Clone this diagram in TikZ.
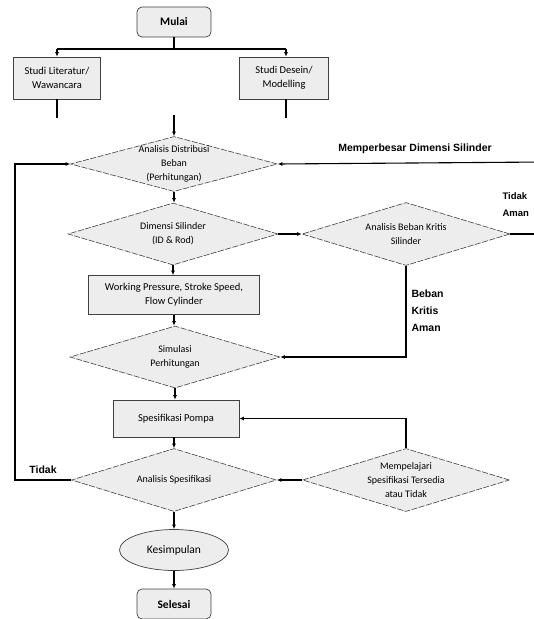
\documentclass[tikz,border=0pt]{standalone}
\usepackage{fontspec}
\setmainfont{Carlito}
\newfontfamily\heavyfont{Liberation Sans}
\usetikzlibrary{shapes.geometric,arrows.meta}

\tikzset{
  procbox/.style={draw=black!75, fill=black!7, line width=0.7pt, align=center,
    inner sep=1pt, font=\fontsize{10.5}{14}\selectfont},
  termbox/.style={procbox, rounded corners=5pt, minimum width=74pt,
    minimum height=30pt, font=\bfseries\fontsize{11.5}{12}\selectfont},
  decide/.style={diamond, draw=black!75, fill=black!7, line width=0.6pt,
    dash pattern=on 6pt off 1.5pt, aspect=3.4, inner xsep=-14pt,
    inner ysep=-6pt, minimum width=207pt, minimum height=60pt, align=center,
    font=\fontsize{10}{14}\selectfont},
  flow/.style={line width=1.1pt, -{Latex[length=4.5pt,width=4pt]}},
  link/.style={line width=1.1pt},
  flowlabel/.style={font=\heavyfont\bfseries\fontsize{10.5}{17}\selectfont, align=left},
}

\begin{document}
\begin{tikzpicture}[x=1pt,y=-1pt]
  \useasboundingbox (0,0) rectangle (534,619);
  \clip (0,0) rectangle (534,619);

  % --- start and the two study branches ---
  \node[termbox] (mulai) at (174,22) {Mulai};
  \node[procbox, minimum width=87pt, minimum height=42pt] (literatur)
    at (57,78) {Studi Literatur/\\Wawancara};
  \node[procbox, minimum width=89pt, minimum height=42pt] (desain)
    at (284,78) {Studi Desein/\\Modelling};

  \coordinate (split) at (174,49);
  \coordinate (splitL) at (57,49);
  \coordinate (splitR) at (286,49);
  \coordinate (litEnd) at (57,118);
  \coordinate (desEnd) at (286,118);
  \coordinate (mergeIn) at (174,115);

  % --- main column ---
  \node[decide, minimum height=55pt] (distribusi) at (174,164)
    {Analisis Distribusi\\Beban\\(Perhitungan)};
  \node[decide, minimum width=210pt, minimum height=62pt] (dimensi) at (173,234)
    {Dimensi Silinder\\(ID \& Rod)};
  \node[decide, minimum width=208pt, minimum height=63pt] (kritis) at (406,234)
    {Analisis Beban Kritis\\Silinder};
  \node[procbox, minimum width=171pt, minimum height=39pt] (working)
    at (174,295) {Working Pressure, Stroke Speed,\\Flow Cylinder};
  \node[decide, minimum width=210pt, minimum height=62pt] (simulasi) at (175,357)
    {Simulasi\\Perhitungan};
  \node[procbox, minimum width=126pt, minimum height=37pt] (pompa)
    at (176,418.5) {Spesifikasi Pompa};
  \node[decide, minimum width=205pt, minimum height=63pt] (analisis) at (174,480)
    {Analisis Spesifikasi};
  \node[decide, minimum width=207pt, minimum height=63pt] (pelajari) at (406,480)
    {Mempelajari\\Spesifikasi Tersedia\\atau Tidak};
  \node[ellipse, draw=black!75, fill=black!7, line width=0.7pt,
        minimum width=109pt, minimum height=41pt, inner sep=0pt,
        font=\fontsize{11.5}{12}\selectfont] (kesimpulan) at (174,550) {Kesimpulan};
  \node[termbox] (selesai) at (174,604) {Selesai};

  % --- loop ends leaving the picture ---
  \coordinate (edgeTop) at (545,162);
  \coordinate (edgeMid) at (545,234);
  \coordinate (loopL) at (15,480);

  % --- connectors ---
  \draw[link] (mulai) -- (split);
  \draw[link] (splitL) -- (splitR);
  \draw[flow] (splitL) -- (splitL |- literatur.north);
  \draw[flow] (splitR) -- (splitR |- desain.north);
  \draw[link] (literatur) -- (litEnd);
  \draw[link] (desEnd |- desain.south) -- (desEnd);
  \draw[flow] (mergeIn) -- (distribusi);
  \draw[flow] (distribusi) -- (distribusi |- dimensi.north);
  \draw[flow] (dimensi) -- (kritis);
  \draw[flow] (dimensi.south) -- (dimensi.south |- working.north);
  \draw[flow] (working) -- (working |- simulasi.north);
  \draw[flow] (kritis.south) |- (simulasi.east);
  \draw[flow] (simulasi.south) -- (simulasi.south |- pompa.north);
  \draw[flow] (pompa.south -| analisis.north) -- (analisis.north);
  \draw[flow] (pelajari) -- (analisis);
  \draw[flow] (pelajari.north) |- (pompa.east);
  \draw[flow] (analisis) -- (kesimpulan);
  \draw[flow] (kesimpulan) -- (selesai);
  \draw[flow] (analisis.west) -- (loopL) |- (distribusi.west);
  \draw[flow] (edgeTop) -- (distribusi.east);
  \draw[link] (kritis.east) -- (edgeMid);

  % --- branch labels ---
  \node[flowlabel] (perbesar) at (415,149) {Memperbesar Dimensi Silinder};
  \node[flowlabel, anchor=west, font=\heavyfont\bfseries\fontsize{9.5}{17}\selectfont]
    (tidakAman) at (499,205) {Tidak\\Aman};
  \node[flowlabel, anchor=west] (kritisAman) at (408,311) {Beban\\Kritis\\Aman};
  \node[flowlabel] (tidak) at (43,470) {Tidak};
\end{tikzpicture}
\end{document}
